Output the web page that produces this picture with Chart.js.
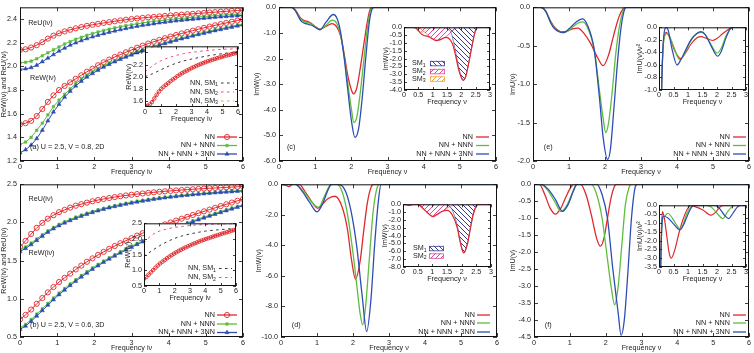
<!DOCTYPE html>
<html>
<head>
<meta charset="utf-8">
<script src="https://cdn.jsdelivr.net/npm/chart.js@4.4.1/dist/chart.umd.min.js"></script>
<style>
html, body { margin: 0; padding: 0; background: #fff; }
body { position: relative; width: 754px; height: 353px; overflow: hidden; }
canvas { position: absolute; }
</style>
</head>
<body>
<script>
// ---- data: imaginary-axis frequencies (Matsubara grid used for the marker curves)
const matsubara = [0, 0.15, 0.3, 0.45, 0.6, 0.75, 0.9, 1.05, 1.2, 1.35, 1.5, 1.65, 1.8, 1.95, 2.1, 2.25, 2.4, 2.55, 2.7, 2.85,
  3.0, 3.15, 3.3, 3.45, 3.6, 3.75, 3.9, 4.05, 4.2, 4.35, 4.5, 4.65, 4.8, 4.95, 5.1, 5.25, 5.4, 5.55, 5.7, 5.85, 6.0];

// (a) 2D, ReU / ReW on the imaginary axis
const aReU_NN  = [2.140, 2.145, 2.160, 2.180, 2.205, 2.235, 2.260, 2.280, 2.296, 2.310, 2.322, 2.333, 2.343, 2.352, 2.360, 2.368, 2.375, 2.382, 2.389, 2.395, 2.401, 2.406, 2.411, 2.415, 2.419, 2.423, 2.427, 2.431, 2.435, 2.438, 2.442, 2.445, 2.449, 2.452, 2.456, 2.459, 2.463, 2.466, 2.470, 2.473, 2.476];
const aReU_NNN = [2.030, 2.035, 2.045, 2.065, 2.090, 2.115, 2.140, 2.165, 2.190, 2.210, 2.230, 2.247, 2.263, 2.278, 2.292, 2.304, 2.315, 2.326, 2.336, 2.345, 2.353, 2.361, 2.368, 2.375, 2.381, 2.387, 2.392, 2.397, 2.402, 2.406, 2.410, 2.414, 2.418, 2.422, 2.426, 2.429, 2.433, 2.436, 2.439, 2.442, 2.445];
const aReU_3NN = [1.975, 1.980, 1.990, 2.010, 2.040, 2.070, 2.100, 2.130, 2.155, 2.180, 2.200, 2.218, 2.235, 2.250, 2.264, 2.277, 2.289, 2.300, 2.311, 2.321, 2.330, 2.339, 2.347, 2.354, 2.361, 2.368, 2.374, 2.380, 2.385, 2.390, 2.395, 2.399, 2.403, 2.407, 2.411, 2.415, 2.419, 2.422, 2.426, 2.429, 2.432];
const aReW_NN  = [1.510, 1.520, 1.540, 1.580, 1.640, 1.700, 1.755, 1.800, 1.835, 1.865, 1.895, 1.925, 1.955, 1.980, 2.010, 2.035, 2.058, 2.080, 2.100, 2.120, 2.140, 2.158, 2.176, 2.193, 2.209, 2.224, 2.239, 2.253, 2.266, 2.279, 2.291, 2.303, 2.315, 2.326, 2.337, 2.348, 2.358, 2.368, 2.378, 2.388, 2.398];
const aReW_NNN = [1.340, 1.360, 1.400, 1.460, 1.520, 1.590, 1.660, 1.715, 1.765, 1.810, 1.855, 1.890, 1.925, 1.955, 1.980, 2.005, 2.027, 2.048, 2.068, 2.087, 2.105, 2.123, 2.140, 2.156, 2.172, 2.187, 2.201, 2.215, 2.228, 2.241, 2.253, 2.265, 2.277, 2.288, 2.299, 2.310, 2.320, 2.330, 2.340, 2.350, 2.360];
const aReW_3NN = [1.270, 1.295, 1.335, 1.390, 1.460, 1.540, 1.615, 1.680, 1.740, 1.790, 1.835, 1.875, 1.910, 1.940, 1.968, 1.994, 2.017, 2.039, 2.060, 2.079, 2.097, 2.115, 2.132, 2.148, 2.164, 2.179, 2.193, 2.207, 2.220, 2.233, 2.245, 2.257, 2.269, 2.280, 2.291, 2.302, 2.312, 2.322, 2.332, 2.342, 2.351];
// inset (a): single-mode curves
const aSM_x = [0, 0.5, 1, 1.5, 2, 2.5, 3, 4, 5, 6];
const aSM1  = [2.00, 2.05, 2.11, 2.17, 2.22, 2.26, 2.29, 2.34, 2.38, 2.41];
const aSM2  = [2.08, 2.18, 2.26, 2.31, 2.35, 2.38, 2.40, 2.43, 2.45, 2.46];
const aSM3  = [2.47, 2.48, 2.49, 2.50, 2.51, 2.52, 2.52, 2.53, 2.53, 2.53];

// (b) 3D
const bReU_NN  = [1.680, 1.760, 1.850, 1.930, 1.995, 2.050, 2.095, 2.135, 2.165, 2.195, 2.220, 2.240, 2.260, 2.278, 2.294, 2.308, 2.321, 2.333, 2.344, 2.354, 2.363, 2.372, 2.380, 2.388, 2.395, 2.402, 2.408, 2.414, 2.420, 2.425, 2.430, 2.435, 2.440, 2.444, 2.448, 2.452, 2.456, 2.460, 2.464, 2.468, 2.472];
const bReU_NNN = [1.640, 1.680, 1.730, 1.785, 1.840, 1.890, 1.935, 1.975, 2.010, 2.040, 2.070, 2.097, 2.122, 2.145, 2.166, 2.186, 2.204, 2.221, 2.237, 2.252, 2.266, 2.279, 2.291, 2.302, 2.313, 2.323, 2.332, 2.341, 2.349, 2.357, 2.364, 2.371, 2.378, 2.384, 2.390, 2.396, 2.401, 2.406, 2.411, 2.416, 2.420];
const bReU_3NN = [1.620, 1.660, 1.710, 1.765, 1.820, 1.872, 1.918, 1.958, 1.994, 2.025, 2.055, 2.082, 2.108, 2.131, 2.153, 2.173, 2.192, 2.209, 2.225, 2.240, 2.254, 2.267, 2.280, 2.292, 2.303, 2.313, 2.323, 2.332, 2.340, 2.348, 2.356, 2.363, 2.370, 2.376, 2.382, 2.388, 2.393, 2.398, 2.403, 2.408, 2.412];
const bReW_NN  = [0.730, 0.790, 0.860, 0.935, 1.010, 1.085, 1.155, 1.220, 1.275, 1.330, 1.385, 1.435, 1.485, 1.530, 1.575, 1.615, 1.655, 1.692, 1.728, 1.762, 1.795, 1.828, 1.860, 1.890, 1.920, 1.948, 1.975, 2.000, 2.025, 2.050, 2.074, 2.098, 2.122, 2.146, 2.169, 2.192, 2.215, 2.238, 2.261, 2.284, 2.306];
const bReW_NNN = [0.620, 0.665, 0.730, 0.800, 0.870, 0.940, 1.010, 1.075, 1.135, 1.195, 1.250, 1.305, 1.355, 1.405, 1.450, 1.495, 1.537, 1.578, 1.617, 1.655, 1.691, 1.726, 1.760, 1.793, 1.825, 1.856, 1.886, 1.915, 1.943, 1.970, 1.996, 2.022, 2.047, 2.072, 2.096, 2.120, 2.143, 2.166, 2.189, 2.211, 2.233];
const bReW_3NN = [0.600, 0.643, 0.705, 0.775, 0.846, 0.917, 0.988, 1.054, 1.115, 1.175, 1.231, 1.286, 1.337, 1.387, 1.433, 1.478, 1.520, 1.562, 1.601, 1.640, 1.676, 1.712, 1.746, 1.779, 1.811, 1.842, 1.872, 1.901, 1.929, 1.957, 1.983, 2.009, 2.034, 2.059, 2.083, 2.107, 2.131, 2.154, 2.177, 2.199, 2.221];
const bSM_x = [0, 0.5, 1, 1.5, 2, 2.5, 3, 4, 5, 6];
const bSM1  = [1.45, 1.62, 1.78, 1.91, 2.02, 2.10, 2.16, 2.25, 2.30, 2.34];
const bSM2  = [1.88, 2.12, 2.25, 2.32, 2.37, 2.40, 2.43, 2.46, 2.48, 2.49];

// (c) ImW, 2D, real axis
const cNN_x  = [0, 0.35, 0.45, 0.6, 0.7, 0.8, 0.9, 1.0, 1.13, 1.3, 1.46, 1.6, 1.7, 1.8, 1.9, 2.0, 2.06, 2.15, 2.25, 2.35, 2.45, 2.52, 2.6, 6];
const cNN_y  = [0, 0, -0.1, -0.42, -0.52, -0.56, -0.63, -0.75, -0.85, -0.75, -0.64, -0.77, -1.1, -1.8, -2.65, -3.22, -3.38, -3.15, -2.35, -1.4, -0.5, -0.08, 0, 0];
const cNNN_x = [0, 0.35, 0.45, 0.6, 0.7, 0.8, 0.9, 1.0, 1.13, 1.3, 1.47, 1.6, 1.7, 1.8, 1.9, 2.0, 2.07, 2.15, 2.25, 2.35, 2.45, 2.53, 2.6, 6];
const cNNN_y = [0, 0, -0.12, -0.47, -0.56, -0.6, -0.66, -0.76, -0.87, -0.7, -0.5, -0.63, -1.05, -1.9, -2.95, -3.95, -4.5, -4.3, -3.3, -2.0, -0.75, -0.12, 0, 0];
const c3NN_x = [0, 0.35, 0.45, 0.6, 0.7, 0.8, 0.9, 1.0, 1.13, 1.3, 1.5, 1.6, 1.7, 1.8, 1.9, 2.0, 2.1, 2.2, 2.3, 2.4, 2.5, 2.57, 2.63, 6];
const c3NN_y = [0, 0, -0.13, -0.52, -0.62, -0.66, -0.7, -0.78, -0.88, -0.58, -0.28, -0.42, -0.95, -1.95, -3.2, -4.4, -5.08, -4.75, -3.55, -1.95, -0.55, -0.08, 0, 0];
const cSM1_x = [0, 1.35, 1.5, 1.65, 1.8, 1.9, 2.0, 2.06, 2.15, 2.25, 2.35, 2.45, 2.52, 2.6, 6];
const cSM1_y = [0, 0, -0.1, -0.38, -1.55, -2.5, -3.15, -3.38, -3.15, -2.35, -1.4, -0.5, -0.08, 0, 0];
const cSM2_x = [0, 0.45, 0.6, 0.8, 1.0, 1.2, 1.4, 1.6, 1.75, 1.9, 6];
const cSM2_y = [0, 0, -0.12, -0.45, -0.72, -0.83, -0.68, -0.38, -0.14, 0, 0];
const cSM3_x = [0, 0.3, 0.4, 0.5, 0.6, 0.7, 0.8, 0.9, 6];
const cSM3_y = [0, 0, -0.08, -0.25, -0.32, -0.25, -0.1, 0, 0];

// (e) ImU, 2D
const eNN_x  = [0, 0.22, 0.35, 0.5, 0.6, 0.8, 0.95, 1.1, 1.25, 1.4, 1.6, 1.8, 1.95, 2.1, 2.2, 2.3, 2.4, 2.5, 2.56, 6];
const eNN_y  = [0, 0, -0.05, -0.19, -0.26, -0.32, -0.31, -0.28, -0.27, -0.33, -0.47, -0.66, -0.76, -0.62, -0.44, -0.26, -0.11, -0.02, 0, 0];
const eNNN_x = [0, 0.22, 0.35, 0.5, 0.6, 0.85, 1.0, 1.2, 1.37, 1.5, 1.7, 1.85, 1.95, 2.02, 2.1, 2.2, 2.3, 2.4, 2.5, 2.56, 6];
const eNNN_y = [0, 0, -0.05, -0.2, -0.27, -0.33, -0.3, -0.22, -0.19, -0.25, -0.55, -1.1, -1.45, -1.63, -1.5, -1.1, -0.6, -0.25, -0.05, 0, 0];
const e3NN_x = [0, 0.22, 0.35, 0.5, 0.6, 0.85, 1.0, 1.2, 1.37, 1.5, 1.7, 1.85, 1.95, 2.07, 2.15, 2.25, 2.35, 2.45, 2.55, 2.6, 6];
const e3NN_y = [0, 0, -0.05, -0.21, -0.28, -0.33, -0.28, -0.19, -0.15, -0.22, -0.55, -1.2, -1.7, -1.98, -1.85, -1.3, -0.7, -0.25, -0.02, 0, 0];
// inset (e): ImU / v^2
const eiNN_x  = [0.06, 0.1, 0.14, 0.19, 0.25, 0.4, 0.55, 0.75, 0.9, 1.1, 1.3, 1.45, 1.6, 1.85, 2.0, 2.2, 2.4, 2.5, 3];
const eiNN_y  = [-1.6, -0.75, -0.3, -0.12, -0.08, -0.2, -0.38, -0.5, -0.42, -0.27, -0.17, -0.15, -0.17, -0.21, -0.18, -0.1, -0.03, 0, 0];
const eiNNN_x = [0.06, 0.1, 0.14, 0.19, 0.26, 0.35, 0.5, 0.72, 0.85, 1.0, 1.2, 1.45, 1.6, 1.8, 2.0, 2.15, 2.3, 2.45, 2.52, 3];
const eiNNN_y = [-1.6, -0.8, -0.35, -0.15, -0.1, -0.13, -0.3, -0.52, -0.45, -0.3, -0.15, -0.08, -0.12, -0.28, -0.41, -0.33, -0.15, -0.03, 0, 0];
const ei3NN_x = [0.06, 0.1, 0.14, 0.19, 0.25, 0.32, 0.45, 0.62, 0.75, 0.9, 1.1, 1.3, 1.45, 1.6, 1.8, 2.02, 2.15, 2.3, 2.45, 2.55, 3];
const ei3NN_y = [-1.6, -0.85, -0.3, -0.05, 0, -0.05, -0.35, -0.6, -0.52, -0.38, -0.2, -0.1, -0.07, -0.12, -0.3, -0.46, -0.38, -0.18, -0.03, 0, 0];

// (d) ImW, 3D
const dNN_x  = [0, 0.12, 0.22, 0.32, 0.5, 0.7, 0.9, 1.02, 1.15, 1.3, 1.5, 1.7, 1.85, 1.95, 2.07, 2.2, 2.3, 2.4, 2.5, 2.57, 6];
const dNN_y  = [0, -0.05, -0.15, 0, 0, -0.6, -1.3, -1.57, -1.3, -0.95, -0.78, -1.5, -3.0, -4.8, -6.2, -5.0, -3.0, -1.2, -0.2, 0, 0];
const dNNN_x = [0, 0.4, 0.6, 0.8, 0.95, 1.05, 1.2, 1.35, 1.45, 1.55, 1.7, 1.85, 2.0, 2.1, 2.2, 2.27, 2.35, 2.45, 2.55, 2.65, 2.73, 6];
const dNNN_y = [0, 0, -0.4, -1.0, -1.4, -1.5, -0.8, -0.1, 0, 0, -0.5, -2.0, -4.5, -6.5, -8.5, -9.2, -8.0, -5.0, -2.0, -0.4, 0, 0];
const d3NN_x = [0, 0.4, 0.6, 0.8, 1.0, 1.15, 1.3, 1.4, 1.6, 1.8, 1.95, 2.1, 2.25, 2.38, 2.5, 2.6, 2.7, 2.78, 6];
const d3NN_y = [0, 0, -0.5, -1.2, -1.8, -1.3, -0.4, 0, 0, -0.5, -1.8, -4.0, -7.2, -9.65, -7.5, -4.0, -1.2, 0, 0];
const dSM1_x = [0, 1.4, 1.5, 1.6, 1.7, 1.85, 1.95, 2.07, 2.2, 2.3, 2.4, 2.5, 2.57, 6];
const dSM1_y = [0, 0, -0.1, -0.3, -0.9, -2.7, -4.7, -6.2, -5.0, -3.0, -1.2, -0.2, 0, 0];
const dSM2_x = [0, 0.45, 0.6, 0.8, 1.02, 1.2, 1.4, 1.6, 1.75, 1.85, 6];
const dSM2_y = [0, 0, -0.2, -0.9, -1.57, -1.3, -0.75, -0.3, -0.08, 0, 0];

// (f) ImU, 3D
const fNN_x  = [0, 0.15, 0.3, 0.45, 0.6, 0.75, 0.9, 1.05, 1.12, 1.3, 1.45, 1.6, 1.75, 1.85, 1.95, 2.05, 2.15, 2.25, 2.32, 6];
const fNN_y  = [0, 0, -0.3, -0.7, -0.88, -0.7, -0.35, -0.05, 0, 0, -0.3, -0.9, -1.6, -1.82, -1.6, -1.0, -0.4, -0.05, 0, 0];
const fNNN_x = [0, 0.2, 0.4, 0.6, 0.75, 0.9, 1.05, 1.15, 1.22, 1.6, 1.75, 1.9, 2.05, 2.15, 2.25, 2.35, 2.45, 2.55, 2.65, 2.72, 6];
const fNNN_y = [0, 0, -0.2, -0.55, -0.8, -0.65, -0.3, -0.05, 0, 0, -0.3, -1.0, -2.2, -3.0, -3.55, -3.0, -1.8, -0.6, -0.1, 0, 0];
const f3NN_x = [0, 0.2, 0.4, 0.6, 0.8, 0.95, 1.1, 1.2, 1.75, 1.9, 2.05, 2.2, 2.35, 2.43, 2.52, 2.62, 2.72, 2.82, 2.88, 6];
const f3NN_y = [0, 0, -0.15, -0.45, -0.8, -0.6, -0.2, 0, 0, -0.3, -1.0, -2.5, -3.8, -4.45, -4.0, -2.6, -1.0, -0.1, 0, 0];
const fiNN_x  = [0.05, 0.08, 0.12, 0.18, 0.25, 0.35, 0.42, 0.55, 0.7, 0.85, 1.0, 1.1, 1.2, 1.5, 1.8, 1.95, 2.1, 2.2, 3];
const fiNN_y  = [-4, -1.5, -0.36, -0.7, -1.5, -2.7, -3.0, -2.5, -1.5, -0.7, -0.15, 0, -0.05, -0.25, -0.56, -0.4, -0.1, 0, 0];
const fiNNN_x = [0.05, 0.08, 0.12, 0.2, 0.3, 0.45, 0.6, 0.7, 0.8, 0.95, 1.1, 1.2, 1.65, 1.8, 2.0, 2.2, 2.35, 2.5, 2.6, 3];
const fiNNN_y = [-4, -2.0, -0.8, -0.6, -0.45, -0.7, -1.1, -1.3, -1.2, -0.5, -0.1, 0, 0, -0.1, -0.45, -0.75, -0.4, -0.1, 0, 0];
const fi3NN_x = [0.05, 0.08, 0.11, 0.15, 0.3, 0.5, 0.72, 0.85, 1.0, 1.15, 1.2, 1.95, 2.1, 2.25, 2.4, 2.55, 2.7, 2.8, 3];
const fi3NN_y = [-4, -2.0, -0.9, -0.62, -0.7, -1.05, -1.39, -1.1, -0.5, -0.05, 0, 0, -0.2, -0.55, -0.75, -0.45, -0.1, 0, 0];

// tick values
const ticksX6 = [0, 1, 2, 3, 4, 5, 6];
const ticksX3 = [0, 0.5, 1, 1.5, 2, 2.5, 3];
const aTicksY = [1.2, 1.4, 1.6, 1.8, 2.0, 2.2, 2.4];
const bTicksY = [0.5, 1.0, 1.5, 2.0, 2.5];
const cTicksY = [0, -1, -2, -3, -4, -5, -6];
const dTicksY = [0, -2, -4, -6, -8, -10];
const eTicksY = [0, -0.5, -1, -1.5, -2];
const fTicksY = [0, -0.5, -1, -1.5, -2, -2.5, -3, -3.5, -4, -4.5];
const aInTicksY = [1.6, 1.8, 2.0, 2.2, 2.4];
const bInTicksY = [0.5, 1.0, 1.5, 2.0, 2.5];
const cInTicksY = [0, -0.5, -1, -1.5, -2, -2.5, -3, -3.5, -4];
const dInTicksY = [0, -1, -2, -3, -4, -5, -6, -7, -8];
const eInTicksY = [0, -0.2, -0.4, -0.6, -0.8, -1.0];
const fInTicksY = [0, -0.5, -1, -1.5, -2, -2.5, -3, -3.5];

// ---- styling
const FONT = '"Liberation Sans", Arial, sans-serif';
const FS = 7.2;
Chart.defaults.font.family = FONT;
Chart.defaults.font.size = FS;
Chart.defaults.color = '#222';

const RED = '#e0282c', GREEN = '#5dbd3f', BLUE = '#2d4db3';
const BLACK = '#333', PINK = '#e8507a', ORANGE = '#eea030';
const SM1C = '#3c3c8e', SM2C = '#e2479a', SM3C = '#f0a22e';

function hatch(color, dir) {
    const s = 5;
    const tile = document.createElement('canvas');
    tile.width = s; tile.height = s;
    const g = tile.getContext('2d');
    g.strokeStyle = color;
    g.lineWidth = 1;
    g.beginPath();
    if (dir > 0) {
        g.moveTo(0, s); g.lineTo(s, 0);
        g.moveTo(-1, 1); g.lineTo(1, -1);
        g.moveTo(s - 1, s + 1); g.lineTo(s + 1, s - 1);
    } else {
        g.moveTo(0, 0); g.lineTo(s, s);
        g.moveTo(-1, s - 1); g.lineTo(1, s + 1);
        g.moveTo(s - 1, -1); g.lineTo(s + 1, 1);
    }
    g.stroke();
    return document.createElement('canvas').getContext('2d').createPattern(tile, 'repeat');
}
const PAT1 = hatch(SM1C, -1), PAT2 = hatch(SM2C, 1), PAT3 = hatch(SM3C, 1);

function pts(xs, ys) {
    return xs.map((x, i) => ({ x, y: ys[i] }));
}

function markerSet(ys, color, style, r) {
    return {
        data: pts(matsubara, ys),
        borderColor: color,
        borderWidth: 1,
        pointStyle: style,
        pointRadius: r,
        pointBorderWidth: style === 'circle' ? 0.9 : 0.5,
        pointBorderColor: color,
        pointBackgroundColor: style === 'circle' ? 'rgba(255,255,255,0)' : color,
        tension: 0
    };
}

function lineSet(xs, ys, color, extra) {
    return Object.assign({
        data: pts(xs, ys),
        borderColor: color,
        borderWidth: 1.3,
        pointRadius: 0,
        cubicInterpolationMode: 'monotone',
        fill: false
    }, extra || {});
}

function fillSet(xs, ys, pattern, color) {
    return {
        data: pts(xs, ys),
        borderColor: color,
        borderWidth: 0.6,
        backgroundColor: pattern,
        fill: 'origin',
        pointRadius: 0,
        cubicInterpolationMode: 'monotone'
    };
}

// inward ticks on all four sides + box
const frame = {
    id: 'frame',
    beforeDraw(chart, args, o) {
        if (!o.white) return;
        const a = chart.chartArea, ctx = chart.ctx;
        ctx.save();
        ctx.fillStyle = '#fff';
        ctx.fillRect(a.left, a.top, a.width, a.height);
        ctx.restore();
    },
    afterDraw(chart, args, o) {
        const { ctx, chartArea: a, scales: { x, y } } = chart;
        const L = o.tick || 4;
        ctx.save();
        ctx.strokeStyle = '#111';
        ctx.lineWidth = 0.8;
        ctx.beginPath();
        for (const t of x.ticks) {
            const p = Math.round(x.getPixelForValue(t.value)) + 0.5;
            ctx.moveTo(p, a.bottom); ctx.lineTo(p, a.bottom - L);
            ctx.moveTo(p, a.top); ctx.lineTo(p, a.top + L);
        }
        for (const t of y.ticks) {
            const p = Math.round(y.getPixelForValue(t.value)) + 0.5;
            ctx.moveTo(a.left, p); ctx.lineTo(a.left + L, p);
            ctx.moveTo(a.right, p); ctx.lineTo(a.right - L, p);
        }
        ctx.stroke();
        ctx.lineWidth = 1;
        ctx.strokeRect(a.left + 0.5, a.top + 0.5, a.width - 1, a.height - 1);
        ctx.restore();
    }
};

// text with an optional subscript part
function richText(ctx, parts, x, y, align) {
    const big = `${FS}px ${FONT}`, small = `5.2px ${FONT}`;
    let w = 0;
    parts.forEach(p => { ctx.font = p.sub ? small : big; w += ctx.measureText(p.t).width; });
    let cx = align === 'right' ? x - w : x;
    ctx.textAlign = 'left';
    ctx.textBaseline = 'middle';
    parts.forEach(p => {
        ctx.font = p.sub ? small : big;
        ctx.fillText(p.t, cx, p.sub ? y + 2 : y);
        cx += ctx.measureText(p.t).width;
    });
}

// key in the lower-right corner
const keys = {
    id: 'keys',
    afterDraw(chart, args, o) {
        if (!o.items) return;
        const { ctx, chartArea: a } = chart;
        ctx.save();
        o.items.forEach((it, i) => {
            const yy = a.bottom + o.rows[i];
            ctx.fillStyle = '#222';
            richText(ctx, it.parts, a.right + o.tx, yy, 'right');
            ctx.strokeStyle = it.color;
            ctx.lineWidth = it.dash ? 1.1 : 1.3;
            ctx.setLineDash(it.dash || []);
            ctx.beginPath();
            ctx.moveTo(a.right + o.l0, yy);
            ctx.lineTo(a.right + o.l1, yy);
            ctx.stroke();
            ctx.setLineDash([]);
            if (it.style) {
                ctx.fillStyle = it.style === 'circle' ? 'rgba(255,255,255,0)' : it.color;
                ctx.lineWidth = it.style === 'circle' ? 0.9 : 0.5;
                Chart.helpers.drawPoint(ctx, { pointStyle: it.style, radius: it.r, borderWidth: ctx.lineWidth, rotation: 0 },
                    a.right + (o.l0 + o.l1) / 2, yy);
            }
        });
        ctx.restore();
    }
};

// hatched boxes for the single-mode decomposition
const hatchKeys = {
    id: 'hatchKeys',
    afterDraw(chart, args, o) {
        if (!o.items) return;
        const { ctx, chartArea: a } = chart;
        ctx.save();
        o.items.forEach((it, i) => {
            const yy = a.top + o.rows[i];
            ctx.fillStyle = '#222';
            richText(ctx, it.parts, a.left + o.tx, yy, 'left');
            ctx.fillStyle = '#fff';
            ctx.fillRect(a.left + o.b0, yy - 2.5, o.b1 - o.b0, 5);
            ctx.fillStyle = it.pattern;
            ctx.fillRect(a.left + o.b0, yy - 2.5, o.b1 - o.b0, 5);
            ctx.strokeStyle = it.color;
            ctx.lineWidth = 0.8;
            ctx.strokeRect(a.left + o.b0 + 0.5, yy - 2, o.b1 - o.b0 - 1, 4.5);
        });
        ctx.restore();
    }
};

// labels placed at data coordinates
const notes = {
    id: 'notes',
    afterDatasetsDraw(chart, args, o) {
        if (!o.items) return;
        const { ctx, scales: { x, y } } = chart;
        ctx.save();
        ctx.fillStyle = '#222';
        ctx.font = `${FS}px ${FONT}`;
        ctx.textAlign = 'left';
        ctx.textBaseline = 'middle';
        for (const n of o.items) ctx.fillText(n.text, x.getPixelForValue(n.x), y.getPixelForValue(n.y));
        ctx.restore();
    }
};

Chart.register(frame, keys, hatchKeys, notes);

function axes(xr, xt, yr, yt, xTitle, yTitle, m) {
    return {
        x: {
            type: 'linear', min: xr[0], max: xr[1],
            afterBuildTicks: s => { s.ticks = xt.map(v => ({ value: v })); },
            afterFit: s => { s.height = m.xh; },
            grid: { display: false, drawTicks: false },
            border: { display: false },
            ticks: { autoSkip: false, maxRotation: 0, padding: m.xp, callback: v => String(v) },
            title: { display: true, text: xTitle, padding: 0 }
        },
        y: {
            type: 'linear', min: yr[0], max: yr[1],
            afterBuildTicks: s => { s.ticks = yt.map(v => ({ value: v })); },
            afterFit: s => { s.width = m.yw; },
            grid: { display: false, drawTicks: false },
            border: { display: false },
            ticks: { autoSkip: false, padding: m.yp, callback: v => Number(v).toFixed(1) },
            title: { display: true, text: yTitle, padding: 0 }
        }
    };
}

// rect = plot area [left, top, right, bottom] in page pixels
function panel(rect, m, datasets, scales, plug) {
    const cv = document.createElement('canvas');
    const w = m.yw + rect[2] - rect[0] + m.pr;
    const h = m.pt + rect[3] - rect[1] + m.xh;
    cv.width = w;
    cv.height = h;
    cv.style.left = (rect[0] - m.yw) + 'px';
    cv.style.top = (rect[1] - m.pt) + 'px';
    cv.style.width = w + 'px';
    cv.style.height = h + 'px';
    document.body.appendChild(cv);
    return new Chart(cv, {
        type: 'line',
        data: { datasets },
        options: {
            responsive: false,
            animation: false,
            events: [],
            layout: { padding: { top: m.pt, right: m.pr, left: 0, bottom: 0 } },
            scales,
            plugins: Object.assign({ legend: { display: false }, tooltip: { enabled: false } }, plug)
        }
    });
}

const markerKeys = [
    { parts: [{ t: 'NN' }], color: RED, style: 'circle', r: 2.6 },
    { parts: [{ t: 'NN + NNN' }], color: GREEN, style: 'rect', r: 1.8 },
    { parts: [{ t: 'NN + NNN + 3NN' }], color: BLUE, style: 'triangle', r: 2.4 }
];
const lineKeys = [
    { parts: [{ t: 'NN' }], color: RED },
    { parts: [{ t: 'NN + NNN' }], color: GREEN },
    { parts: [{ t: 'NN + NNN + 3NN' }], color: BLUE }
];
const smKey = n => [{ t: 'NN, SM' }, { t: String(n), sub: true }];
const hKey = n => [{ t: 'SM' }, { t: String(n), sub: true }];

// ---------- (a)
let m = { yw: 20, pt: 5, pr: 7, xh: 15, xp: 2, yp: 3 };
panel([20, 5, 243, 161], m, [
    markerSet(aReU_NN, RED, 'circle', 2.6), markerSet(aReU_NNN, GREEN, 'rect', 1.8), markerSet(aReU_3NN, BLUE, 'triangle', 2.4),
    markerSet(aReW_NN, RED, 'circle', 2.6), markerSet(aReW_NNN, GREEN, 'rect', 1.8), markerSet(aReW_3NN, BLUE, 'triangle', 2.4)
].reverse(), axes([0, 6], ticksX6, [1.2, 2.5], aTicksY, 'Frequency iν', 'ReW(iν) and ReU(iν)', m), {
    frame: { tick: 4 },
    keys: { items: markerKeys, tx: -28, l0: -26, l1: -6, rows: [-24, -15.5, -7] },
    notes: { items: [
        { x: 0.22, y: 2.37, text: 'ReU(iν)' },
        { x: 0.27, y: 1.905, text: 'ReW(iν)' },
        { x: 0.27, y: 1.32, text: '(a) U = 2.5, V = 0.8, 2D' }
    ] }
});

// ---------- (c)
m = { yw: 26, pt: 5, pr: 6, xh: 15, xp: 2, yp: 3 };
panel([279, 5, 496, 161], m, [
    lineSet(c3NN_x, c3NN_y, BLUE), lineSet(cNNN_x, cNNN_y, GREEN), lineSet(cNN_x, cNN_y, RED)
], axes([0, 6], ticksX6, [-6, 0], cTicksY, 'Frequency ν', 'ImW(ν)', m), {
    frame: { tick: 4 },
    keys: { items: lineKeys, tx: -23, l0: -20, l1: -7, rows: [-24, -15.5, -7] },
    notes: { items: [{ x: 0.22, y: -5.45, text: '(c)' }] }
});

// ---------- (e)
m = { yw: 24, pt: 5, pr: 4, xh: 15, xp: 2, yp: 3 };
panel([533, 5, 749, 161], m, [
    lineSet(e3NN_x, e3NN_y, BLUE), lineSet(eNNN_x, eNNN_y, GREEN), lineSet(eNN_x, eNN_y, RED)
], axes([0, 6], ticksX6, [-2, 0], eTicksY, 'Frequency ν', 'ImU(ν)', m), {
    frame: { tick: 4 },
    keys: { items: lineKeys, tx: -19, l0: -16, l1: -3, rows: [-24, -15.5, -7] },
    notes: { items: [{ x: 0.3, y: -1.82, text: '(e)' }] }
});

// ---------- (b)
m = { yw: 20, pt: 6, pr: 7, xh: 15, xp: 2, yp: 3 };
panel([20, 183, 243, 337], m, [
    markerSet(bReU_NN, RED, 'circle', 2.6), markerSet(bReU_NNN, GREEN, 'rect', 1.8), markerSet(bReU_3NN, BLUE, 'triangle', 2.4),
    markerSet(bReW_NN, RED, 'circle', 2.6), markerSet(bReW_NNN, GREEN, 'rect', 1.8), markerSet(bReW_3NN, BLUE, 'triangle', 2.4)
].reverse(), axes([0, 6], ticksX6, [0.5, 2.5], bTicksY, 'Frequency iν', 'ReW(iν) and ReU(iν)', m), {
    frame: { tick: 4 },
    keys: { items: markerKeys, tx: -28, l0: -26, l1: -6, rows: [-22, -13, -4.5] },
    notes: { items: [
        { x: 0.23, y: 2.305, text: 'ReU(iν)' },
        { x: 0.23, y: 1.6, text: 'ReW(iν)' },
        { x: 0.27, y: 0.655, text: '(b) U = 2.5, V = 0.6, 3D' }
    ] }
});

// ---------- (d)
m = { yw: 26, pt: 6, pr: 6, xh: 15, xp: 2, yp: 3 };
panel([281, 183, 497, 337], m, [
    lineSet(d3NN_x, d3NN_y, BLUE), lineSet(dNNN_x, dNNN_y, GREEN), lineSet(dNN_x, dNN_y, RED)
], axes([0, 6], ticksX6, [-10, 0], dTicksY, 'Frequency ν', 'ImW(ν)', m), {
    frame: { tick: 4 },
    keys: { items: lineKeys, tx: -22, l0: -20, l1: -7, rows: [-22, -14, -5] },
    notes: { items: [{ x: 0.3, y: -9.2, text: '(d)' }] }
});

// ---------- (f)
m = { yw: 25, pt: 6, pr: 4, xh: 15, xp: 2, yp: 3 };
panel([534, 183, 749, 337], m, [
    lineSet(f3NN_x, f3NN_y, BLUE), lineSet(fNNN_x, fNNN_y, GREEN), lineSet(fNN_x, fNN_y, RED)
], axes([0, 6], ticksX6, [-4.5, 0], fTicksY, 'Frequency ν', 'ImU(ν)', m), {
    frame: { tick: 4 },
    keys: { items: lineKeys, tx: -19, l0: -16, l1: -3, rows: [-22, -14, -5] },
    notes: { items: [{ x: 0.3, y: -4.15, text: '(f)' }] }
});

// ---------- insets
m = { yw: 20, pt: 5, pr: 5, xh: 16, xp: 1, yp: 2 };
panel([145, 45, 238, 107], m, [
    markerSet(aReW_NN, RED, 'circle', 1.8),
    lineSet(aSM_x, aSM1, BLACK, { borderWidth: 1, borderDash: [2.5, 3.5] }),
    lineSet(aSM_x, aSM2, PINK, { borderWidth: 1, borderDash: [2.5, 3.5] }),
    lineSet(aSM_x, aSM3, ORANGE, { borderWidth: 1, borderDash: [2.5, 3.5] })
], axes([0, 6], ticksX6, [1.5, 2.5], aInTicksY, 'Frequency iν', 'ReW(iν)', m), {
    frame: { tick: 3, white: true },
    keys: { items: [
        { parts: smKey(1), color: BLACK, dash: [2.5, 3.5] },
        { parts: smKey(2), color: PINK, dash: [2.5, 3.5] },
        { parts: smKey(3), color: ORANGE, dash: [2.5, 3.5] }
    ], tx: -20, l0: -17, l1: -4, rows: [-24, -15, -6] }
});

panel([144, 222, 236, 286], m, [
    markerSet(bReW_NN, RED, 'circle', 1.8),
    lineSet(bSM_x, bSM1, BLACK, { borderWidth: 1, borderDash: [2.5, 3.5] }),
    lineSet(bSM_x, bSM2, PINK, { borderWidth: 1, borderDash: [2.5, 3.5] })
], axes([0, 6], ticksX6, [0.5, 2.5], bInTicksY, 'Frequency iν', 'ReW(iν)', m), {
    frame: { tick: 3, white: true },
    keys: { items: [
        { parts: smKey(1), color: BLACK, dash: [2.5, 3.5] },
        { parts: smKey(2), color: PINK, dash: [2.5, 3.5] }
    ], tx: -20, l0: -17, l1: -4, rows: [-17.5, -8.5] }
});

m = { yw: 22, pt: 5, pr: 5, xh: 16, xp: 1, yp: 2 };
panel([404, 26, 490, 90], m, [
    lineSet(cNN_x, cNN_y, RED, { borderWidth: 1.2 }),
    fillSet(cSM1_x, cSM1_y, PAT1, SM1C),
    fillSet(cSM2_x, cSM2_y, PAT2, SM2C),
    fillSet(cSM3_x, cSM3_y, PAT3, SM3C)
], axes([0, 3], ticksX3, [-4, 0], cInTicksY, 'Frequency ν', 'ImW(ν)', m), {
    frame: { tick: 3, white: true },
    hatchKeys: { items: [
        { parts: hKey(1), pattern: PAT1, color: SM1C },
        { parts: hKey(2), pattern: PAT2, color: SM2C },
        { parts: hKey(3), pattern: PAT3, color: SM3C }
    ], tx: 8, b0: 26, b1: 41, rows: [36, 44, 51.5] }
});

panel([403, 203, 491, 267], m, [
    lineSet(dNN_x, dNN_y, RED, { borderWidth: 1.2 }),
    fillSet(dSM1_x, dSM1_y, PAT1, SM1C),
    fillSet(dSM2_x, dSM2_y, PAT2, SM2C)
], axes([0, 3], ticksX3, [-8, 0], dInTicksY, 'Frequency ν', 'ImW(ν)', m), {
    frame: { tick: 3, white: true },
    hatchKeys: { items: [
        { parts: hKey(1), pattern: PAT1, color: SM1C },
        { parts: hKey(2), pattern: PAT2, color: SM2C }
    ], tx: 10, b0: 26, b1: 41, rows: [44, 51.5] }
});

m = { yw: 23, pt: 5, pr: 5, xh: 16, xp: 1, yp: 2 };
panel([659, 26, 746, 90], m, [
    lineSet(ei3NN_x, ei3NN_y, BLUE, { borderWidth: 1.2 }),
    lineSet(eiNNN_x, eiNNN_y, GREEN, { borderWidth: 1.2 }),
    lineSet(eiNN_x, eiNN_y, RED, { borderWidth: 1.2 })
], axes([0, 3], ticksX3, [-1, 0], eInTicksY, 'Frequency ν', 'ImU(ν)/ν²', m), {
    frame: { tick: 3, white: true }
});

panel([659, 204, 746, 267], m, [
    lineSet(fi3NN_x, fi3NN_y, BLUE, { borderWidth: 1.2 }),
    lineSet(fiNNN_x, fiNNN_y, GREEN, { borderWidth: 1.2 }),
    lineSet(fiNN_x, fiNN_y, RED, { borderWidth: 1.2 })
], axes([0, 3], ticksX3, [-3.5, 0], fInTicksY, 'Frequency ν', 'ImU(ν)/ν²', m), {
    frame: { tick: 3, white: true }
});
</script>
</body>
</html>
